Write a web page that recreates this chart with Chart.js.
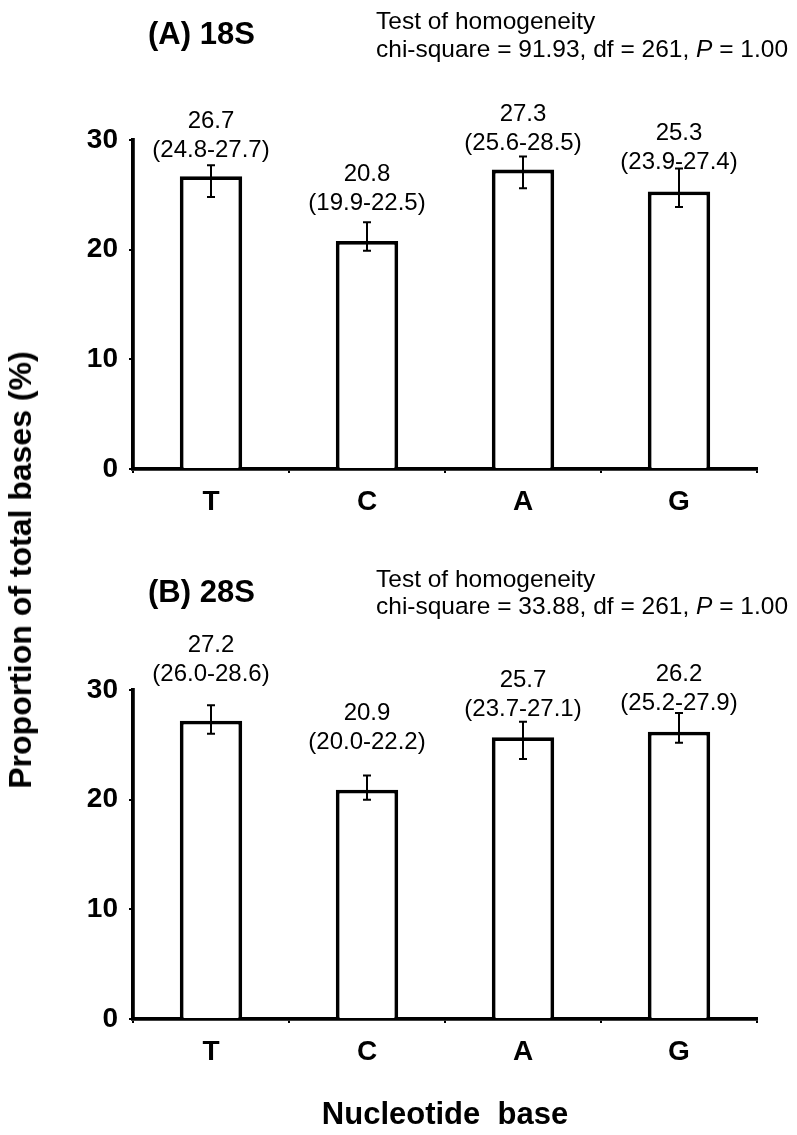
<!DOCTYPE html>
<html><head><meta charset="utf-8">
<script src="https://cdn.jsdelivr.net/npm/chart.js@4.4.1/dist/chart.umd.min.js"></script>
<style>
html,body{margin:0;padding:0;background:#fff;}
#wrap{position:relative;width:797px;height:1135px;overflow:hidden;background:#fff;}
canvas{position:absolute;left:0;}
#ytitle{position:absolute;left:20px;top:570px;transform:translate(-50%,-50%) rotate(-90deg);
  white-space:nowrap;font:bold 32px 'Liberation Sans',Arial,sans-serif;line-height:32px;color:#000;}
</style></head><body>
<div id="wrap">
<canvas id="cA" width="797" height="545" style="top:0px"></canvas>
<canvas id="cB" width="797" height="590" style="top:545px"></canvas>
<div id="ytitle">Proportion of total bases (%)</div>
</div>
<script>
// ---- data ----
const categories = ['T', 'C', 'A', 'G'];
const yTickValues = [0, 10, 20, 30];

const valuesA = [26.7, 20.8, 27.3, 25.3];
const lowA    = [24.8, 19.9, 25.6, 23.9];
const highA   = [27.7, 22.5, 28.5, 27.4];

const valuesB = [27.2, 20.9, 25.7, 26.2];
const lowB    = [26.0, 20.0, 23.7, 25.2];
const highB   = [28.6, 22.2, 27.1, 27.9];

const panelTitleA = '(A) 18S';
const panelTitleB = '(B) 28S';
const testHeading = 'Test of homogeneity';
const chiA = ['chi-square = 91.93, df = 261, ', 'P', ' = 1.00'];
const chiB = ['chi-square = 33.88, df = 261, ', 'P', ' = 1.00'];
const xAxisTitle = 'Nucleotide  base';

// ---- style ----
const FF = "'Liberation Sans', Arial, sans-serif";
const labelGapA = [15, 19, 13, 6];
const labelGapB = [31, 33, 12, 10];

const errorBarPlugin = {
  id: 'errorBars',
  afterDatasetsDraw(chart) {
    const ds = chart.data.datasets[0];
    const meta = chart.getDatasetMeta(0);
    const ys = chart.scales.y;
    const ctx = chart.ctx;
    ctx.save();
    ctx.strokeStyle = '#000';
    ctx.lineWidth = 2;
    meta.data.forEach((bar, i) => {
      const x = bar.x;
      const y1 = ys.getPixelForValue(ds.errLow[i]);
      const y2 = ys.getPixelForValue(ds.errHigh[i]);
      ctx.beginPath();
      ctx.moveTo(x, y1); ctx.lineTo(x, y2);
      ctx.moveTo(x - 4, y1); ctx.lineTo(x + 4, y1);
      ctx.moveTo(x - 4, y2); ctx.lineTo(x + 4, y2);
      ctx.stroke();
    });
    ctx.restore();
  }
};

const valueLabelPlugin = {
  id: 'valueLabels',
  afterDatasetsDraw(chart) {
    const ds = chart.data.datasets[0];
    const meta = chart.getDatasetMeta(0);
    const ys = chart.scales.y;
    const ctx = chart.ctx;
    ctx.save();
    ctx.fillStyle = '#000';
    ctx.font = '24px ' + FF;
    ctx.textAlign = 'center';
    ctx.textBaseline = 'middle';
    meta.data.forEach((bar, i) => {
      const yr = ys.getPixelForValue(ds.errHigh[i]) - ds.labelGap[i];
      ctx.fillText('(' + ds.errLow[i].toFixed(1) + '-' + ds.errHigh[i].toFixed(1) + ')', bar.x, yr);
      ctx.fillText(ds.data[i].toFixed(1), bar.x, yr - 29);
    });
    ctx.restore();
  }
};

function textPlugin(opts) {
  return {
    id: 'panelTexts',
    afterDraw(chart) {
      const ctx = chart.ctx;
      ctx.save();
      ctx.fillStyle = '#000';
      ctx.textBaseline = 'alphabetic';
      ctx.textAlign = 'left';
      ctx.font = 'bold 31px ' + FF;
      ctx.fillText(opts.title, 148, opts.titleY);
      ctx.font = '24.5px ' + FF;
      ctx.fillText(testHeading, 376, opts.test1Y);
      let x = 376;
      opts.chi.forEach((seg, k) => {
        ctx.font = (k === 1 ? 'italic ' : '') + '24.5px ' + FF;
        ctx.fillText(seg, x, opts.test2Y);
        x += ctx.measureText(seg).width;
      });
      if (opts.xTitle) {
        const a = chart.chartArea;
        ctx.font = 'bold 31px ' + FF;
        ctx.textAlign = 'center';
        ctx.fillText(opts.xTitle, (a.left + a.right) / 2, opts.xTitleY);
      }
      ctx.restore();
    }
  };
}

function makeChart(id, vals, lo, hi, gaps, padTop, padBottom, texts) {
  return new Chart(document.getElementById(id), {
    type: 'bar',
    data: {
      labels: categories,
      datasets: [{
        data: vals, errLow: lo, errHigh: hi, labelGap: gaps,
        backgroundColor: '#ffffff', borderColor: '#000000', borderWidth: 3.8,
        barPercentage: 0.4, categoryPercentage: 1.0
      }]
    },
    options: {
      responsive: false, animation: false, devicePixelRatio: 1,
      layout: { padding: { top: padTop, left: 0, right: 40, bottom: padBottom } },
      plugins: { legend: { display: false }, tooltip: { enabled: false } },
      scales: {
        x: {
          z: 1,
          grid: { display: true, drawOnChartArea: false, drawTicks: true, tickLength: 4, color: '#000', lineWidth: 2, offset: true },
          border: { display: true, color: '#000', width: 3.8 },
          ticks: { color: '#000', font: { family: FF, size: 28, weight: 'bold' }, padding: 12, maxRotation: 0 },
          afterFit: s => { s.height = 60; }
        },
        y: {
          z: 1, min: 0, max: 30,
          afterBuildTicks: s => { s.ticks = yTickValues.map(v => ({ value: v })); },
          grid: { display: true, drawOnChartArea: false, drawTicks: true, tickLength: 4, color: '#000', lineWidth: 2 },
          border: { display: true, color: '#000', width: 3.8 },
          ticks: { color: '#000', font: { family: FF, size: 28, weight: 'bold' }, padding: 11 },
          afterFit: s => { s.width = 133; }
        }
      }
    },
    plugins: [errorBarPlugin, valueLabelPlugin, textPlugin(texts)]
  });
}

makeChart('cA', valuesA, lowA, highA, labelGapA, 140, 16,
  { title: panelTitleA, titleY: 44, test1Y: 29, test2Y: 57, chi: chiA });
makeChart('cB', valuesB, lowB, highB, labelGapB, 145, 56,
  { title: panelTitleB, titleY: 57, test1Y: 42, test2Y: 69, chi: chiB, xTitle: xAxisTitle, xTitleY: 579 });
</script>
</body></html>
